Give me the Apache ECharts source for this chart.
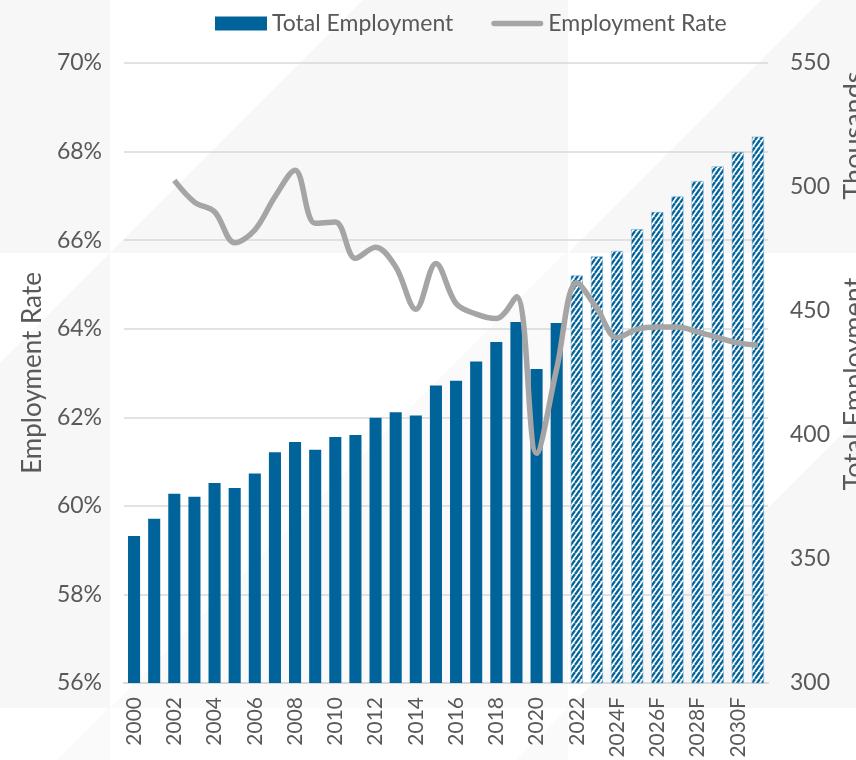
<!DOCTYPE html>
<html>
<head>
<meta charset="utf-8">
<script src="https://cdn.jsdelivr.net/npm/echarts@6/dist/echarts.min.js"></script>
<style>
  html, body { margin: 0; padding: 0; background: #ffffff; }
  #chart { width: 856px; height: 760px; }
</style>
</head>
<body>
<div id="chart"></div>
<script>
// Years on the category axis; forecast years carry an "F" suffix
const categories = [
  '2000', '2001', '2002', '2003', '2004', '2005', '2006', '2007', '2008', '2009',
  '2010', '2011', '2012', '2013', '2014', '2015', '2016', '2017', '2018', '2019',
  '2020', '2021', '2022', '2023F', '2024F', '2025F', '2026F', '2027F', '2028F',
  '2029F', '2030F', '2031F'
];

// Total employment, thousands (right axis)
const totalEmployment = [
  359.3, 366.2, 376.3, 375.1, 380.6, 378.6, 384.5, 393.0, 397.2, 394.1,
  399.2, 400.0, 407.0, 409.2, 407.9, 420.0, 421.9, 429.6, 437.5, 445.6,
  426.6, 445.2, 464.3, 472.0, 474.2, 483.0, 489.9, 496.2, 502.4, 508.3,
  514.1, 520.3
];

// Employment rate, percent (left axis); series starts in 2002
const employmentRate = [
  null, null, 67.35, 66.86, 66.64, 65.94, 66.23, 66.98, 67.58, 66.38,
  66.41, 65.59, 65.84, 65.40, 64.44, 65.47, 64.57, 64.33, 64.23, 64.72,
  61.19, 63.10, 65.04, 64.46, 63.80, 63.99, 64.04, 64.04, 63.93, 63.80,
  63.68, 63.63
];

// Bars from this year on are drawn hatched (projection period)
const hatchedFrom = '2022';

// Axis tick settings
const rateTicks = { min: 56, max: 70, interval: 2 };
const employmentTicks = { min: 300, max: 550, interval: 50 };

const BLUE = '#00639a';
const GREY_LINE = '#a5a5a5';
const TEXT = '#595959';
const FONT = 'Lato';

// Diagonal-stripe tile for the projected bars
function makeHatch() {
  const w = 5, h = 7;
  const c = document.createElement('canvas');
  c.width = w; c.height = h;
  const g = c.getContext('2d');
  g.fillStyle = '#ffffff';
  g.fillRect(0, 0, w, h);
  g.strokeStyle = BLUE;
  g.lineWidth = 2.3;
  for (let k = -1; k <= 1; k++) {
    g.beginPath();
    g.moveTo(k * w, h);
    g.lineTo(k * w + w, 0);
    g.stroke();
  }
  return c;
}
const hatch = { image: makeHatch(), repeat: 'repeat' };

const hatchStart = categories.indexOf(hatchedFrom);
const barData = totalEmployment.map((v, i) => i >= hatchStart
  ? { value: v, itemStyle: { color: hatch, borderColor: '#7fb0cf', borderWidth: 0.6 } }
  : v);

// Faint geometric backdrop
const BG = '#f7f7f7';
const bgShapes = [
  { type: 'rect', shape: { x: 0, y: 0, width: 856, height: 253 }, fill: BG },
  { type: 'polygon', points: [[110, 0], [363, 0], [110, 253]], fill: '#ffffff' },
  { type: 'polygon', points: [[568, 0], [821, 0], [568, 253]], fill: '#ffffff' },
  { type: 'polygon', points: [[0, 363], [110, 253], [110, 708], [0, 708]], fill: BG },
  { type: 'polygon', points: [[110, 708], [565, 253], [568, 253], [568, 708]], fill: '#fafafa' },
  { type: 'polygon', points: [[568, 708], [856, 420], [856, 708]], fill: BG },
  { type: 'polygon', points: [[57, 760], [110, 707], [110, 760]], fill: '#fafafa' },
  { type: 'polygon', points: [[516, 760], [568, 708], [568, 760]], fill: '#fafafa' }
];
const graphic = bgShapes.map((s, i) => s.type === 'rect'
  ? { type: 'rect', shape: s.shape, style: { fill: s.fill }, z: -10, z2: i, silent: true }
  : { type: 'polygon', shape: { points: s.points }, style: { fill: s.fill }, z: -10, z2: i, silent: true });

// Thick rounded stroke used as the legend mark of the rate line
const lineIcon = 'path://M0,0L0.01,0M2.8,4.2h46.4a2.8,2.8,0,0,1,0,5.6h-46.4a2.8,2.8,0,0,1,0,-5.6zM52,14L51.99,14';

const chart = echarts.init(document.getElementById('chart'), null, { renderer: 'canvas' });

chart.setOption({
  backgroundColor: '#ffffff',
  animation: false,
  graphic: graphic,
  textStyle: { fontFamily: FONT, color: TEXT },
  legend: {
    left: 210,
    top: 7,
    itemWidth: 52,
    itemHeight: 14,
    itemGap: 38,
    textStyle: { fontFamily: FONT, fontSize: 23, color: TEXT },
    data: [
      { name: 'Total Employment', icon: 'rect' },
      { name: 'Employment Rate', icon: lineIcon }
    ]
  },
  grid: { left: 124, right: 88, top: 63, bottom: 77, containLabel: false, outerBoundsMode: 'none' },
  xAxis: {
    type: 'category',
    data: categories,
    axisTick: { show: false },
    axisLine: { lineStyle: { color: '#d9d9d9', width: 2 } },
    axisLabel: {
      interval: 1,
      rotate: 90,
      margin: 14,
      fontFamily: FONT,
      fontSize: 21,
      color: TEXT
    }
  },
  yAxis: [
    {
      type: 'value',
      position: 'left',
      min: rateTicks.min,
      max: rateTicks.max,
      interval: rateTicks.interval,
      name: 'Employment Rate',
      nameLocation: 'middle',
      nameGap: 73,
      nameTextStyle: { fontFamily: FONT, fontSize: 26, color: TEXT },
      axisLine: { show: false },
      axisTick: { show: false },
      axisLabel: { formatter: '{value}%', margin: 22, fontFamily: FONT, fontSize: 23, color: TEXT },
      splitLine: { lineStyle: { color: '#d9d9d9', width: 1.5 } }
    },
    {
      type: 'value',
      position: 'right',
      min: employmentTicks.min,
      max: employmentTicks.max,
      interval: employmentTicks.interval,
      name: '{a|Total Employment}{b|Thousands}',
      nameLocation: 'middle',
      nameGap: 72,
      nameTextStyle: {
        fontFamily: FONT,
        fontSize: 27,
        color: TEXT,
        padding: [0, 0, 0, 184],
        rich: {
          a: { fontFamily: FONT, fontSize: 27, color: TEXT },
          b: { fontFamily: FONT, fontSize: 27, color: TEXT, padding: [0, 0, 0, 78] }
        }
      },
      axisLine: { show: false },
      axisTick: { show: false },
      axisLabel: { margin: 22, fontFamily: FONT, fontSize: 23, color: TEXT },
      splitLine: { show: false }
    }
  ],
  series: [
    {
      name: 'Total Employment',
      type: 'bar',
      yAxisIndex: 1,
      barCategoryGap: '40%',
      itemStyle: { color: BLUE },
      data: barData,
      z: 2
    },
    {
      name: 'Employment Rate',
      type: 'line',
      yAxisIndex: 0,
      smooth: 0.35,
      symbol: 'none',
      showSymbol: false,
      connectNulls: false,
      lineStyle: { color: GREY_LINE, width: 5.5 },
      itemStyle: { color: GREY_LINE },
      data: employmentRate,
      z: 3
    }
  ]
});
</script>
</body>
</html>
